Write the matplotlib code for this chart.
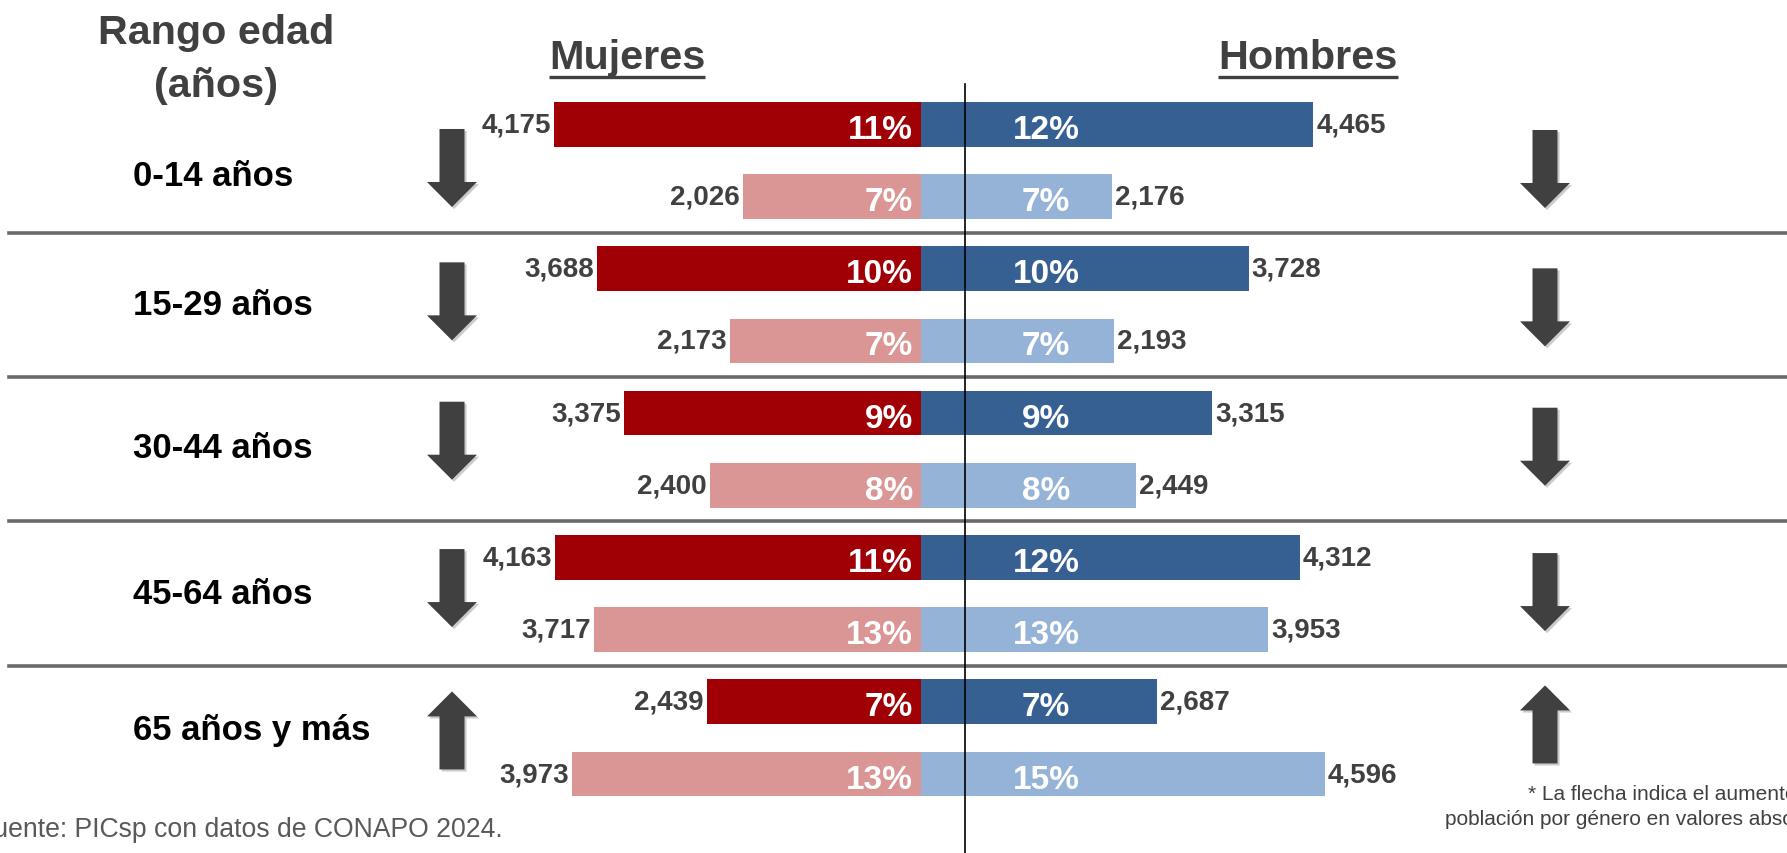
import matplotlib
matplotlib.use('Agg')
import matplotlib.pyplot as plt
import matplotlib.patheffects as pe
from matplotlib.patches import FancyArrow

plt.rcParams['font.family'] = ['Liberation Sans', 'DejaVu Sans']

#%% datos (miles de personas, 2024 vs 2050)
age_groups = ['0-14 años', '15-29 años', '30-44 años', '45-64 años', '65 años y más']
mujeres_2024 = [4175, 3688, 3375, 4163, 2439]
mujeres_2050 = [2026, 2173, 2400, 3717, 3973]
hombres_2024 = [4465, 3728, 3315, 4312, 2687]
hombres_2050 = [2176, 2193, 2449, 3953, 4596]
pct_muj_2024 = [11, 10, 9, 11, 7]
pct_muj_2050 = [7, 7, 8, 13, 13]
pct_hom_2024 = [12, 10, 9, 12, 7]
pct_hom_2050 = [7, 7, 8, 13, 15]

#%% layout
W, H = 1787, 854
CENTER_PX = 921
PX_PER_UNIT = 0.0879
Y0_PX = 125.4
ROW_PX = 72.18
BAR_H = 0.62

DARK_RED = '#A00005'
LIGHT_RED = '#D99694'
DARK_BLUE = '#376092'
LIGHT_BLUE = '#95B3D7'
GREY_TXT = '#404040'

# small vertical nudges (px) as placed in the original slide
label_nudge = [15, 0, -2, 0, -8]
arrow_nudge_l = [8, -3, -8, -5, -8]
arrow_nudge_r = [9, 3, -2, -1, -14]


def row_px(r):
    return Y0_PX + ROW_PX * r


fig = plt.figure(figsize=(W / 100, H / 100), dpi=100)
ax = fig.add_axes([0, 0, 1, 1])
ax.set_xlim(-CENTER_PX / PX_PER_UNIT, (W - CENTER_PX) / PX_PER_UNIT)
ax.set_ylim((H - Y0_PX) / ROW_PX, -Y0_PX / ROW_PX)
ax.axis('off')

# overlay in pixel coords for headers, arrows, notes
ov = fig.add_axes([0, 0, 1, 1], zorder=3)
ov.set_xlim(0, W)
ov.set_ylim(H, 0)
ov.axis('off')

rows_top = [2 * i for i in range(len(age_groups))]
rows_bot = [2 * i + 1 for i in range(len(age_groups))]

ax.barh(rows_top, [-v for v in mujeres_2024], height=BAR_H, color=DARK_RED)
ax.barh(rows_bot, [-v for v in mujeres_2050], height=BAR_H, color=LIGHT_RED)
ax.barh(rows_top, hombres_2024, height=BAR_H, color=DARK_BLUE)
ax.barh(rows_bot, hombres_2050, height=BAR_H, color=LIGHT_BLUE)

lbl = dict(textcoords='offset pixels', va='center', fontweight='bold')
for rows, muj, hom, pm, ph in [(rows_top, mujeres_2024, hombres_2024, pct_muj_2024, pct_hom_2024),
                               (rows_bot, mujeres_2050, hombres_2050, pct_muj_2050, pct_hom_2050)]:
    for r, m, h, a, b in zip(rows, muj, hom, pm, ph):
        ax.annotate(f'{m:,}', xy=(-m, r), xytext=(-3, 0), ha='right', fontsize=20, color=GREY_TXT, **lbl)
        ax.annotate(f'{h:,}', xy=(h, r), xytext=(3, 0), ha='left', fontsize=20, color=GREY_TXT, **lbl)
        ax.annotate(f'{a}%', xy=(0, r), xytext=(-8, -5), ha='right', fontsize=24, color='white', **lbl)
        ax.annotate(f'{b}%', xy=(0, r), xytext=(125, -5), ha='center', fontsize=24, color='white', **lbl)

# separadores entre grupos
for k in range(len(age_groups) - 1):
    ax.axhline(2 * k + 1.5, xmin=9 / W, xmax=1, color='#6a6a6a', lw=2.6, zorder=1)

# linea vertical
ov.plot([965, 965], [85, H], color='black', lw=1.2)

# encabezados
ov.text(216, 44, 'Rango edad', ha='center', va='baseline', fontsize=29.7, fontweight='bold', color=GREY_TXT)
ov.text(216, 97, '(años)', ha='center', va='baseline', fontsize=29.7, fontweight='bold', color=GREY_TXT)
t_m = ov.text(627, 69, 'Mujeres', ha='center', va='baseline', fontsize=29.8, fontweight='bold', color=GREY_TXT)
t_h = ov.text(1308, 69, 'Hombres', ha='center', va='baseline', fontsize=29.8, fontweight='bold', color=GREY_TXT)

for i, g in enumerate(age_groups):
    cy = row_px(2 * i + 0.5)
    ov.text(133, cy + label_nudge[i], g, ha='left', va='center', fontsize=25, fontweight='bold', color='black')
    for x0, a, b, nud in [(452, mujeres_2024[i], mujeres_2050[i], arrow_nudge_l[i]),
                          (1545, hombres_2024[i], hombres_2050[i], arrow_nudge_r[i])]:
        d = 1 if b < a else -1
        yc = cy + nud
        arr = FancyArrow(x0, yc - d * 39.5, 0, d * 78, width=25, head_width=50, head_length=25,
                         length_includes_head=True, color=GREY_TXT, lw=0)
        arr.set_path_effects([pe.SimplePatchShadow(offset=(1.5, -1.5), alpha=0.22), pe.Normal()])
        ov.add_patch(arr)

# notas
ov.text(503, 837, 'Fuente: PICsp con datos de CONAPO 2024.', ha='right', va='baseline',
        fontsize=19.2, color='#595959')
ov.text(1528, 800, '* La flecha indica el aumento o disminución de la', ha='left', va='baseline',
        fontsize=15, color=GREY_TXT)
ov.text(1445, 825, 'población por género en valores absolutos.', ha='left', va='baseline',
        fontsize=15, color=GREY_TXT)

# subrayado de Mujeres / Hombres
fig.canvas.draw()
for t in (t_m, t_h):
    bb = t.get_window_extent()
    ov.plot([bb.x0, bb.x1], [78, 78], color=GREY_TXT, lw=2.4, solid_capstyle='butt')

fig.savefig('out.png', dpi=100)
